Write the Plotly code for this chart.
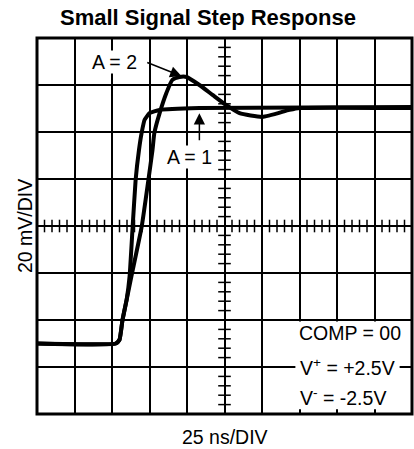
import numpy as np
import plotly.graph_objects as go

# time axis in divisions (25 ns/DIV), amplitude in divisions (20 mV/DIV)
a1_x = [0.0, 2.1, 2.2, 2.28, 2.39, 2.47, 2.55, 2.63, 2.72, 2.79, 2.87, 3.0, 3.27, 4.33, 10.0]
a1_y = [1.5, 1.5, 1.58, 2.0, 2.43, 2.94, 3.98, 4.98, 5.62, 5.98, 6.26, 6.40, 6.47, 6.51, 6.53]

a2_x = [0.0, 2.1, 2.2, 2.28, 2.39, 2.52, 2.79, 2.97, 3.08, 3.13, 3.27, 3.45, 3.61, 3.8, 3.99,
        4.33, 4.68, 5.05, 5.4, 6.01, 6.73, 7.0, 10.0]
a2_y = [1.5, 1.5, 1.58, 2.0, 2.43, 2.94, 3.98, 4.98, 5.62, 5.98, 6.40, 6.83, 7.11, 7.17, 7.17,
        7.0, 6.79, 6.57, 6.40, 6.32, 6.47, 6.51, 6.51]

x_divs = 10
y_divs = 8

fig = go.Figure()

# minor ticks on the centre cross
tx = [v for v in np.round(np.arange(0, x_divs + 0.001, 0.2), 2) if abs(v - round(v)) > 1e-6]
ty = [v for v in np.round(np.arange(0, y_divs + 0.001, 0.2), 2) if abs(v - round(v)) > 1e-6]
fig.add_trace(go.Scatter(x=tx, y=[y_divs / 2] * len(tx), mode="markers",
                         marker=dict(symbol="line-ns", size=9, line=dict(width=1.5, color="black")),
                         hoverinfo="skip", showlegend=False))
fig.add_trace(go.Scatter(x=[x_divs / 2] * len(ty), y=ty, mode="markers",
                         marker=dict(symbol="line-ew", size=9, line=dict(width=1.5, color="black")),
                         hoverinfo="skip", showlegend=False))

fig.add_trace(go.Scatter(x=a1_x, y=a1_y, mode="lines", name="A = 1",
                         line=dict(color="black", width=4, shape="spline", smoothing=0.4),
                         showlegend=False))
fig.add_trace(go.Scatter(x=a2_x, y=a2_y, mode="lines", name="A = 2",
                         line=dict(color="black", width=4, shape="spline", smoothing=0.5),
                         showlegend=False))

font = "Liberation Sans, Arial, Helvetica, sans-serif"
fs = 19.5

fig.update_layout(
    width=414, height=449,
    margin=dict(l=37, r=2, t=38, b=35),
    paper_bgcolor="white", plot_bgcolor="white",
    font=dict(family=font, size=fs, color="black"),
    xaxis=dict(range=[0, x_divs], dtick=1, showgrid=True, gridcolor="black", gridwidth=1.5,
               showticklabels=False, zeroline=False, ticks="", fixedrange=True),
    yaxis=dict(range=[0, y_divs], dtick=1, showgrid=True, gridcolor="black", gridwidth=1.5,
               showticklabels=False, zeroline=False, ticks="", fixedrange=True),
    shapes=[
        dict(type="rect", xref="x", yref="y", x0=6.89, x1=9.67, y0=0.1, y1=1.94,
             fillcolor="white", line=dict(width=0), layer="above"),
        dict(type="rect", xref="paper", yref="paper", x0=0, x1=1, y0=0, y1=1,
             line=dict(color="black", width=3), layer="above"),
    ],
    annotations=[
        dict(text="<b>Small Signal Step Response</b>", xref="paper", yref="paper",
             x=0.455, y=1.0, yshift=21, xanchor="center", yanchor="middle",
             showarrow=False, font=dict(size=22)),
        dict(text="25 ns/DIV", xref="paper", yref="paper", x=0.5, y=0, yshift=-23,
             xanchor="center", yanchor="middle", showarrow=False, font=dict(size=fs)),
        dict(text="20 mV/DIV", xref="paper", yref="paper", x=0, y=0.5, xshift=-12,
             xanchor="center", yanchor="middle", textangle=-90, showarrow=False,
             font=dict(size=fs)),
        dict(text="A = 2", xref="x", yref="y", x=2.07, y=7.49, showarrow=False,
             bgcolor="white", borderpad=0, font=dict(size=fs)),
        dict(text="", xref="x", yref="y", x=3.85, y=7.19, ax=2.9, ay=7.49,
             axref="x", ayref="y", showarrow=True, arrowhead=2, arrowsize=1.5,
             arrowwidth=1.5, arrowcolor="black"),
        dict(text="A = 1", xref="x", yref="y", x=4.07, y=5.47, showarrow=False,
             bgcolor="white", borderpad=0, font=dict(size=fs)),
        dict(text="", xref="x", yref="y", x=4.33, y=6.40, ax=4.33, ay=5.79,
             axref="x", ayref="y", showarrow=True, arrowhead=2, arrowsize=1.5,
             arrowwidth=1.5, arrowcolor="black"),
        dict(text="COMP = 00", xref="x", yref="y", x=6.95, y=1.72, xanchor="left",
             showarrow=False, bgcolor="white", borderpad=0, font=dict(size=fs)),
        dict(text="V<sup>+</sup> = +2.5V", xref="x", yref="y", x=6.95, y=1.0, xanchor="left",
             showarrow=False, font=dict(size=fs)),
        dict(text="V<sup>-</sup> = -2.5V", xref="x", yref="y", x=6.95, y=0.36, xanchor="left",
             showarrow=False, font=dict(size=fs)),
    ],
)

fig.write_html("out.html", config={"displayModeBar": False},
               post_script="document.body.style.margin='0';document.body.style.overflow='hidden';")
